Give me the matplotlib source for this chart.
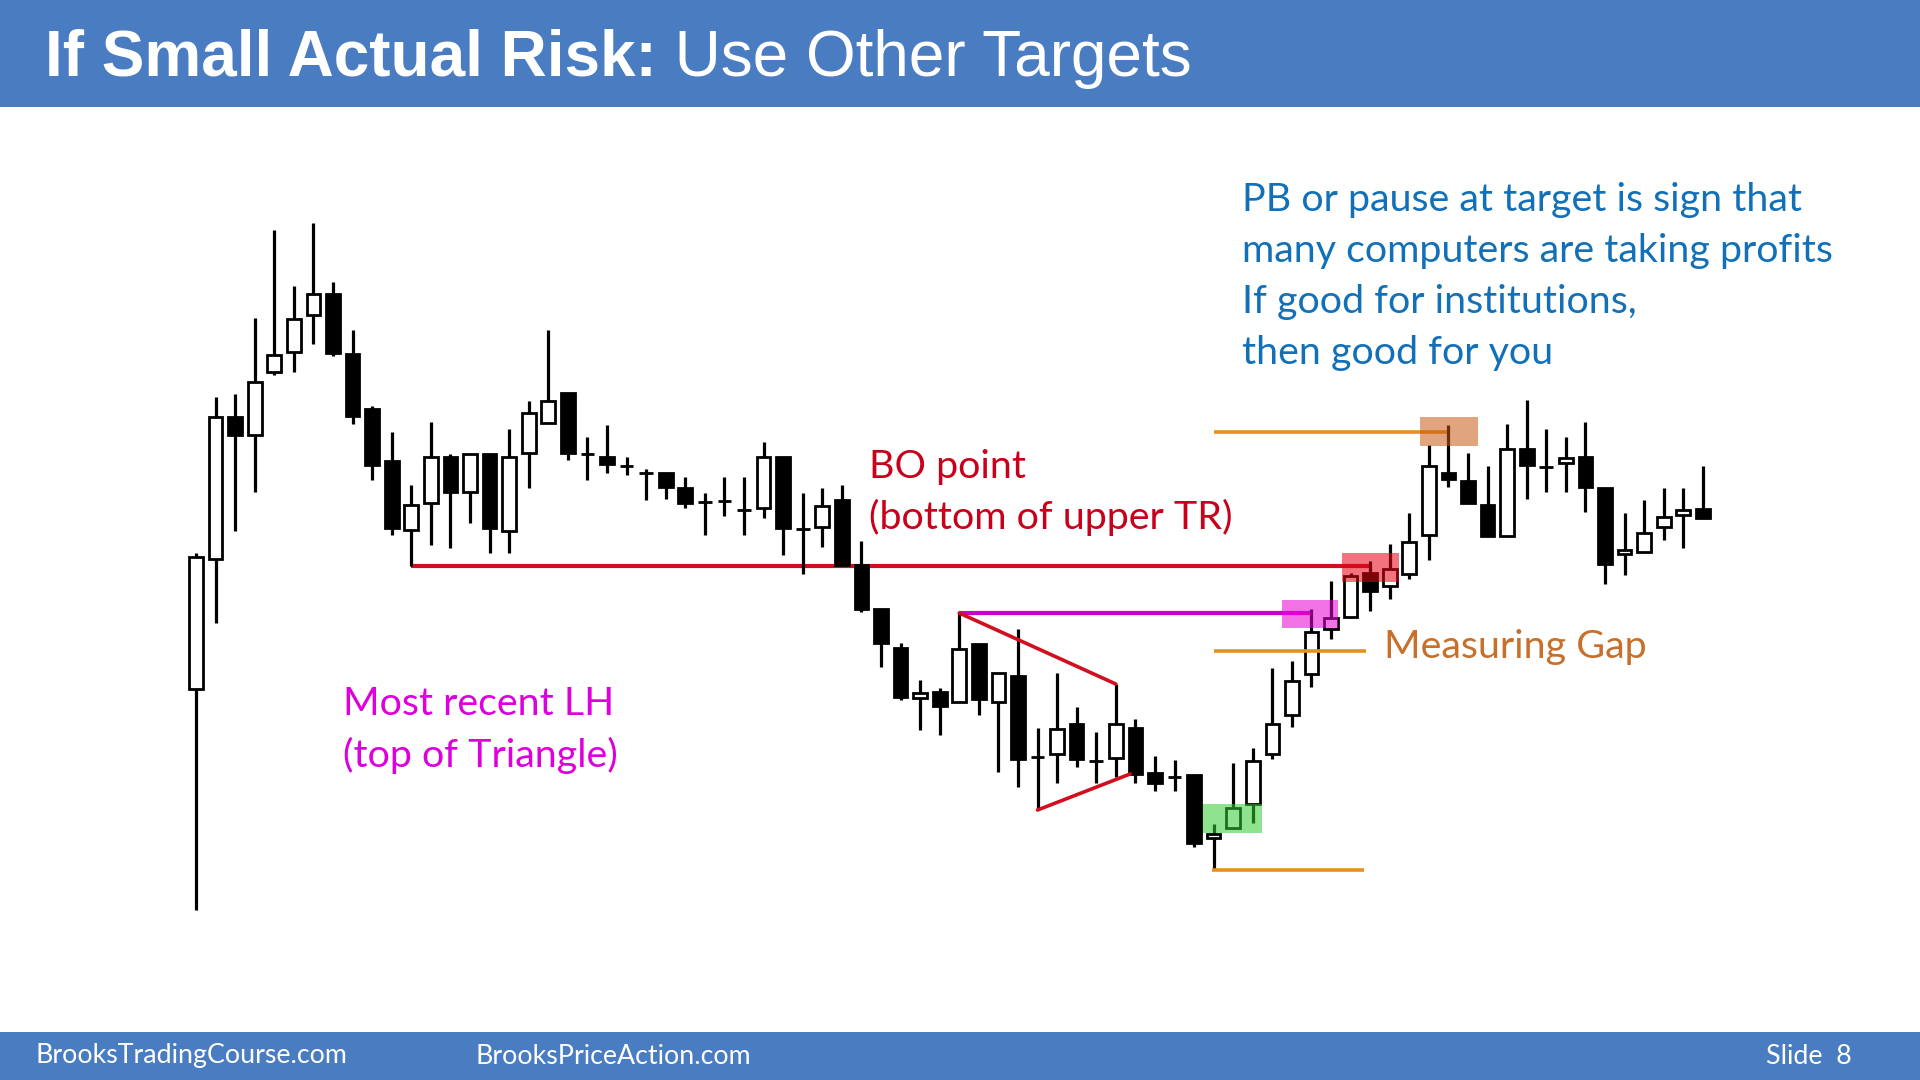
import matplotlib
matplotlib.use('Agg')
import matplotlib.pyplot as plt
from matplotlib.patches import Rectangle

# price bars (arbitrary price units)
opens = [391, 521, 663, 645, 708, 728, 765, 786, 726, 671, 619, 550, 577, 623, 588, 626,
         549, 627, 657, 687, 626, 623, 614, 607, 607, 592, 578, 579, 570, 572, 623, 551,
         553, 580, 515, 471, 432, 382, 388, 378, 436, 378, 404, 323, 326, 356, 319, 322,
         352, 307, 303, 305, 242, 252, 276, 326, 365, 406, 451, 463, 507, 494, 506, 545,
         607, 599, 575, 544, 631, 613, 617, 623, 592, 526, 528, 553, 565, 571]
highs = [527, 683, 686, 762, 850, 794, 857, 798, 750, 674, 648, 595, 658, 626, 626, 626,
         651, 679, 750, 687, 643, 655, 623, 611, 607, 603, 587, 603, 603, 638, 623, 587,
         592, 595, 539, 471, 437, 400, 392, 467, 436, 407, 451, 352, 407, 373, 348, 396,
         361, 324, 320, 305, 256, 317, 332, 412, 419, 471, 499, 507, 519, 536, 567, 635,
         655, 627, 614, 656, 680, 651, 643, 658, 592, 567, 580, 592, 592, 614]
lows = [170, 457, 549, 588, 705, 708, 736, 724, 656, 600, 545, 514, 535, 532, 557, 527,
        527, 592, 657, 620, 600, 607, 605, 580, 581, 572, 545, 564, 545, 562, 525, 506,
        533, 515, 468, 413, 380, 350, 345, 378, 365, 308, 293, 270, 297, 313, 297, 303,
        297, 289, 289, 233, 211, 251, 257, 321, 353, 393, 441, 462, 469, 481, 501, 520,
        593, 577, 544, 544, 581, 588, 588, 568, 496, 505, 528, 540, 532, 562]
closes = [523, 663, 645, 698, 725, 761, 786, 727, 664, 615, 552, 575, 623, 588, 626, 552,
          623, 667, 679, 627, 626, 616, 614, 607, 593, 577, 578, 579, 570, 623, 552, 551,
          574, 515, 471, 437, 383, 387, 374, 431, 381, 407, 321, 323, 351, 321, 319, 356,
          306, 297, 303, 237, 246, 272, 319, 356, 399, 448, 462, 504, 489, 511, 538, 614,
          601, 577, 544, 631, 615, 613, 622, 593, 516, 530, 547, 563, 570, 562]

# reference levels drawn on the chart
bo_level = 514          # bottom of upper trading range
lh_level = 467          # most recent lower high (top of triangle)
target_level = 648
gap_level = 429
low_level = 210

# highlighted zones: (x0, x1, y0, y1) in bar index / price
zones = {
    'green': (51.46, 54.47, 247, 276),
    'pink': (55.49, 58.35, 452, 480),
    'red': (58.56, 61.47, 498, 527),
    'peach': (62.54, 65.51, 634, 663),
}
zone_colors = {'green': (0.20, 0.80, 0.20), 'pink': (0.90, 0.0, 0.82),
               'red': (0.90, 0.0, 0.08), 'peach': (0.78, 0.35, 0.08)}

# triangle sides: ((x0, y0), (x1, y1))
triangle = [((39, 467), (47.0, 396)), ((43.0, 270), (47.73, 306))]

W, H = 1920, 1080
X0, STEP = 196, 19.57

fig = plt.figure(figsize=(19.2, 10.8), dpi=100)
fig.patch.set_facecolor('white')
ax = fig.add_axes([0, 0, 1, 1])
ax.set_xlim(-X0 / STEP, (W - X0) / STEP)
ax.set_ylim(0, H)
ax.axis('off')

idx = list(range(len(opens)))
ax.vlines(idx, lows, highs, color='black', linewidth=2.3, zorder=2)
for i in idx:
    o, c = opens[i], closes[i]
    up = c >= o
    ax.bar(i, abs(c - o), bottom=min(o, c), width=0.7,
           color='white' if up else 'black', edgecolor='black', linewidth=2.0, zorder=3)

red = '#d0101e'
ax.hlines(bo_level, 11, 60.0, color=red, linewidth=3.0, zorder=1)
ax.hlines(lh_level, 39, 57.0, color='#cc00cc', linewidth=3.0, zorder=1)
orange = '#e8901e'
ax.hlines(target_level, 52.0, 63.9, color=orange, linewidth=2.6, zorder=5)
ax.hlines(gap_level, 52.0, 59.8, color=orange, linewidth=2.6, zorder=5)
ax.hlines(low_level, 51.9, 59.7, color=orange, linewidth=2.6, zorder=5)
for (xa, ya), (xb, yb) in triangle:
    ax.plot([xa, xb], [ya, yb], color=red, linewidth=2.6, zorder=5, solid_capstyle='round')

for name, (x0, x1, y0, y1) in zones.items():
    ax.add_patch(Rectangle((x0, y0), x1 - x0, y1 - y0, facecolor=zone_colors[name],
                           alpha=0.55, edgecolor='none', zorder=6))

# header and footer bands
band = '#4a7cc2'
fig.add_artist(Rectangle((0, 1 - 107 / H), 1, 107 / H, transform=fig.transFigure,
                         facecolor=band, edgecolor='none', zorder=0))
fig.add_artist(Rectangle((0, 0), 1, 48 / H, transform=fig.transFigure,
                         facecolor=band, edgecolor='none', zorder=0))

t1 = fig.text(45 / W, 1 - 59 / H, 'If Small Actual Risk:', color='white', fontsize=46,
              fontweight='bold', family='Liberation Sans', va='center', ha='left')
fig.canvas.draw()
bb = t1.get_window_extent()
fig.text(bb.x1 / W, 1 - 59 / H, ' Use Other Targets', color='white', fontsize=46,
         family='Liberation Sans', va='center', ha='left')

body_font = 'Lato'
fs = 28.4
fig.text(869 / W, 1 - 467 / H, 'BO point', color='#c8001a', fontsize=fs,
         family=body_font, va='center')
fig.text(869 / W, 1 - 517 / H, '(bottom of upper TR)', color='#c8001a', fontsize=fs,
         family=body_font, va='center')
fig.text(343 / W, 1 - 704 / H, 'Most recent LH', color='#dd00dd', fontsize=fs,
         family=body_font, va='center')
fig.text(343 / W, 1 - 755 / H, '(top of Triangle)', color='#dd00dd', fontsize=fs,
         family=body_font, va='center')
fig.text(1384 / W, 1 - 647 / H, 'Measuring Gap', color='#c8702a', fontsize=fs,
         family=body_font, va='center')
blue_lines = ['PB or pause at target is sign that', 'many computers are taking profits',
              'If good for institutions,', 'then good for you']
for k, line in enumerate(blue_lines):
    fig.text(1242 / W, 1 - (200 + 51 * k) / H, line, color='#1270b8', fontsize=fs,
             family=body_font, va='center')

fig.text(35 / W, 24 / H, 'BrooksTradingCourse.com', color='white', fontsize=19.3,
         family=body_font, va='center')
fig.text(475 / W, 24 / H, 'BrooksPriceAction.com', color='white', fontsize=19.3,
         family=body_font, va='center')
fig.text(1852 / W, 24 / H, 'Slide  8', color='white', fontsize=19.3,
         family=body_font, va='center', ha='right')

fig.savefig('out.png', dpi=100)
